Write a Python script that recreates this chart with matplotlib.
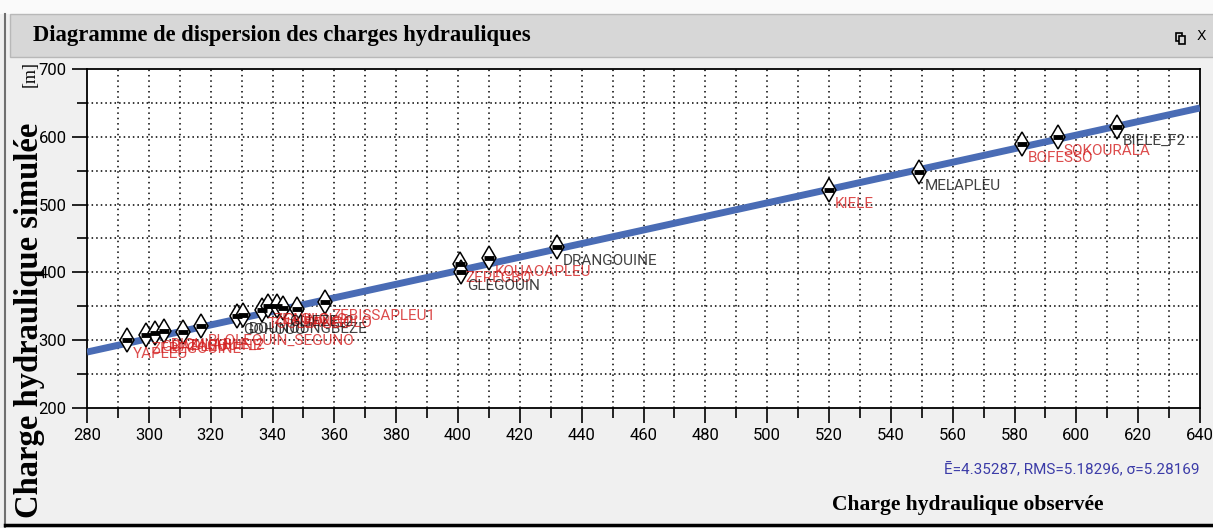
import matplotlib
matplotlib.use("Agg")
import matplotlib.pyplot as plt
from matplotlib.patches import Rectangle
from matplotlib.lines import Line2D
import numpy as np

names = ["BIELE_F2", "SOKOURALA", "BOFESSO", "MELAPLEU", "KIELE",
         "DRANGOUINE", "KOUAOAPLEU", "ZEREGBO", "GLEGOUIN",
         "YAPLEU", "ZEREGOUINE", "GBAPLEU", "DIOULABLE_2", "ZAGOUINE",
         "BLOLEQUIN_SEGUNO", "GOHOUO", "DOUNOUNGBEZE", "TOULEPLEU",
         "ZEAGLO", "GUINGLO", "GLIEZE_2", "BANGOLO", "ZEBISSAPLEU1"]
observed = [613, 594, 582.5, 549, 520, 432, 410, 400.5, 401,
            293, 299, 302, 305, 311, 317, 328.5, 330.5, 336.5,
            338.5, 341.5, 343.5, 348, 357]
simulated = [614, 600, 590, 548, 521, 437, 421, 413, 401,
             301, 307, 311, 314, 312, 321, 335, 337, 344,
             350, 351, 348, 346, 357]
label_colors = ["k", "r", "r", "k", "r", "k", "r", "r", "k",
                "r", "r", "r", "r", "r", "r", "k", "k", "r",
                "r", "r", "k", "r", "r"]

line_x = [280, 640]
line_offset = 2.5
stats = "Ē=4.35287, RMS=5.18296, σ=5.28169"

W, H = 1213, 528
narrow = ["Liberation Sans Narrow", "Roboto", "DejaVu Sans"]
serif = ["Liberation Serif", "DejaVu Serif"]

fig = plt.figure(figsize=(W / 100, H / 100), dpi=100)
fig.patch.set_facecolor("#f0f0f0")

def fx(x):
    return x / W

def fy(y):
    return 1 - y / H

# window chrome
fig.patches.append(Rectangle((0, fy(14)), 1, 14 / H, transform=fig.transFigure,
                             facecolor="#fafafa", edgecolor="none"))
fig.patches.append(Rectangle((fx(10), fy(57)), 1, 43 / H, transform=fig.transFigure,
                             facecolor="#d7d7d7", edgecolor="#b8b8b8", lw=1))
fig.lines.append(Line2D([fx(5), fx(5)], [fy(14), 0], transform=fig.transFigure,
                        color="#707070", lw=1.5))
fig.lines.append(Line2D([fx(5), 1], [fy(525), fy(525)], transform=fig.transFigure,
                        color="black", lw=2.5))
fig.text(fx(33), fy(35), "Diagramme de dispersion des charges hydrauliques",
         family=serif, weight="bold", fontsize=16.3, va="center", ha="left")
fig.patches.append(Rectangle((fx(1176), fy(41)), 6 / W, 8 / H, transform=fig.transFigure,
                             facecolor="none", edgecolor="black", lw=1.2))
fig.patches.append(Rectangle((fx(1179), fy(44)), 6 / W, 8 / H, transform=fig.transFigure,
                             facecolor="#d7d7d7", edgecolor="black", lw=1.2))
fig.text(fx(1201), fy(36), "X", family="DejaVu Sans", fontsize=10, va="center", ha="center")

ax = fig.add_axes([fx(87), fy(408), (1200 - 87) / W, (408 - 69) / H])
ax.set_facecolor("white")
ax.set_xlim(280, 640)
ax.set_ylim(200, 700)

ax.set_xticks(np.arange(280, 641, 20))
ax.set_xticks(np.arange(290, 640, 20), minor=True)
ax.set_yticks(np.arange(200, 701, 100))
ax.set_yticks(np.arange(250, 700, 100), minor=True)
for v in np.arange(290, 640, 10):
    ax.axvline(v, color="black", ls=(0, (1, 2.5)), lw=1.1, zorder=1)
for v in np.arange(250, 700, 50):
    ax.axhline(v, color="black", ls=(0, (1, 2)), lw=1.1, zorder=1)
ax.tick_params(which="major", length=11, width=1.2, direction="out")
ax.tick_params(which="minor", length=7, width=1.2, direction="out")
ax.tick_params(axis="both", labelsize=12)
for lab in ax.get_xticklabels() + ax.get_yticklabels():
    lab.set_family(narrow)
for s in ax.spines.values():
    s.set_linewidth(1.3)

# 1:1 line
ax.plot(line_x, [v + line_offset for v in line_x], color="#4a6cb5", lw=5,
        solid_capstyle="butt", zorder=3)

ax.plot(observed, simulated, ls="none", marker="d", ms=12.5, mew=1.1,
        mec="black", mfc="white", zorder=4)
ax.plot(observed, simulated, ls="none", marker="_", ms=7, mew=3.5,
        mec="black", zorder=4)
for n, x, y, c in zip(names, observed, simulated, label_colors):
    col = "#111111" if c == "k" else "#d42020"
    ax.annotate(n, (x, y), xytext=(6, -14), textcoords="offset pixels",
                family=narrow, fontsize=11, color=col, alpha=0.8,
                va="center", ha="left", zorder=5)

fig.text(fx(1200), fy(470), stats, family=narrow, fontsize=11,
         color="#3c3ca8", ha="right", va="center")
fig.text(fx(968), fy(505), "Charge hydraulique observée", family=serif,
         weight="bold", fontsize=15.5, ha="center", va="center")
fig.text(fx(30), fy(320), "Charge hydraulique simulée", family=serif,
         weight="bold", fontsize=23.5, rotation=90, ha="center", va="center")
fig.text(fx(30), fy(74), "[m]", family=serif, fontsize=13, rotation=90,
         ha="center", va="center")

fig.savefig("out.png", dpi=100, facecolor=fig.get_facecolor())
